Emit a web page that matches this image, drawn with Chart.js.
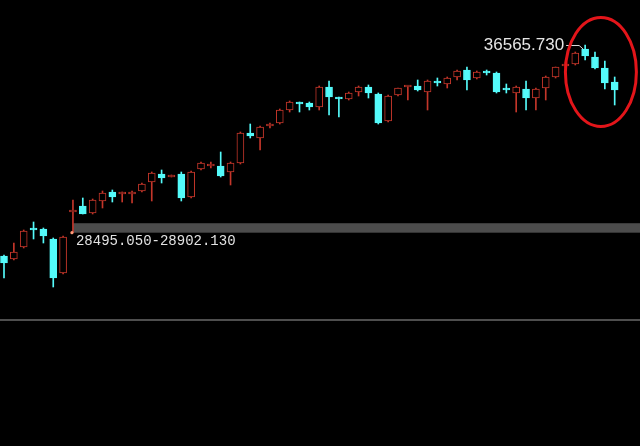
<!DOCTYPE html>
<html>
<head>
<meta charset="utf-8">
<script src="https://cdn.jsdelivr.net/npm/chart.js@4.4.1/dist/chart.umd.min.js"></script>
<style>
  html, body { margin: 0; padding: 0; background: #000; overflow: hidden; }
  #kChart { display: block; }
</style>
</head>
<body>
<canvas id="kChart" width="640" height="446"></canvas>
<script>
// daily candles, oldest first
const openPrices = [
  27493, 27364, 27880, 28697, 28654, 28224, 26762, 29385, 29643, 29342,
  29858, 30245, 30159, 30159, 30288, 30675, 31019, 30890, 31019, 30030,
  31234, 31363, 31363, 31105, 31492, 32782, 32567, 33083, 33212, 33771,
  34115, 34072, 33900, 34760, 34330, 34244, 34545, 34760, 34459, 33298,
  34416, 34760, 34803, 34545, 34975, 34889, 35190, 35491, 35147, 35405,
  35362, 34674, 34502, 34674, 34287, 34717, 35190, 35663, 35749, 36394,
  36050, 35577, 34975
];
const highPrices = [
  27536, 28052, 28611, 28955, 28697, 28267, 28353, 29901, 29987, 29944,
  30288, 30331, 30245, 30288, 30632, 31105, 31191, 30976, 31105, 31148,
  31535, 31535, 31965, 31535, 32825, 33169, 33083, 33212, 33814, 34158,
  34115, 34115, 34803, 35018, 34330, 34545, 34803, 34846, 34502, 34416,
  34717, 34803, 35061, 35061, 35147, 35190, 35491, 35620, 35448, 35491,
  35405, 34889, 34803, 35018, 34717, 35233, 35620, 35835, 36265, 36565.73,
  36265, 35878, 35190
];
const lowPrices = [
  26547, 27321, 27837, 28224, 28052, 26160, 26719, 28495.05, 29299, 29299,
  29557, 29815, 29815, 29772, 30245, 29858, 30632, 30890, 29858, 29987,
  31191, 31277, 30890, 30546, 31449, 32567, 32051, 32997, 33169, 33685,
  33685, 33771, 33771, 33556, 33470, 34201, 34373, 34287, 33169, 33255,
  34373, 34201, 34588, 33771, 34803, 34717, 35061, 34631, 35104, 35276,
  34502, 34502, 33685, 33771, 33771, 34201, 35147, 35577, 35706, 35921,
  35534, 34674, 33986
];
const closePrices = [
  27192, 27665, 28568, 28611, 28353, 26547, 28310, 29471, 29299, 29901,
  30202, 30030, 30202, 30245, 30589, 31062, 30847, 30976, 29987, 31105,
  31492, 31406, 30933, 31492, 32782, 32653, 33040, 33126, 33771, 34115,
  34029, 33900, 34760, 34330, 34244, 34502, 34760, 34502, 33212, 34373,
  34717, 34803, 34631, 35018, 34932, 35147, 35448, 35061, 35405, 35362,
  34545, 34631, 34760, 34287, 34674, 35190, 35620, 35706, 36222, 36093,
  35577, 34932, 34631
];

// highlighted price band and its caption
const bandLow = 28495.05;
const bandHigh = 28902.13;
const bandText = '28495.050-28902.130';
const bandStart = 7;      // candle the band starts at
const peakText = '36565.730';

const upColor = '#c4362a';
const downColor = '#54fafa';

(function(){
  const isUp = openPrices.map((o, i) => closePrices[i] >= o);

  const overlayPlugin = {
    id: 'overlay',
    beforeDatasetsDraw(chart) {
      const ctx = chart.ctx, xs = chart.scales.x, ys = chart.scales.y;
      const area = chart.chartArea;
      ctx.save();
      // lower pane separator
      ctx.fillStyle = '#4e4e4e';
      ctx.fillRect(area.left, 319, area.right - area.left, 2);
      // price band
      const bx = xs.getPixelForValue(bandStart);
      const yTop = ys.getPixelForValue(bandHigh), yBot = ys.getPixelForValue(bandLow);
      ctx.fillStyle = '#4c4c4c';
      ctx.fillRect(bx, yTop, area.right - bx, yBot - yTop);
      ctx.restore();
    },
    afterDatasetsDraw(chart) {
      const ctx = chart.ctx, xs = chart.scales.x, ys = chart.scales.y;
      ctx.save();

      // band caption + marker dot
      const bx = xs.getPixelForValue(bandStart);
      const by = ys.getPixelForValue(bandLow);
      ctx.fillStyle = '#ff9a78';
      ctx.beginPath();
      ctx.arc(bx - 1, by, 1.6, 0, Math.PI * 2);
      ctx.fill();
      ctx.font = '14px "Liberation Mono", "DejaVu Sans Mono", monospace';
      ctx.fillStyle = '#e2e2e2';
      ctx.textBaseline = 'top';
      ctx.textAlign = 'left';
      ctx.fillText(bandText, bx + 3, by + 2);

      // peak label
      let pk = 0;
      highPrices.forEach((h, i) => { if (h > highPrices[pk]) pk = i; });
      const px = xs.getPixelForValue(pk), py = ys.getPixelForValue(highPrices[pk]);
      ctx.strokeStyle = '#d8d8d8';
      ctx.lineWidth = 1;
      ctx.beginPath();
      ctx.moveTo(px - 19, py + 0.5);
      ctx.lineTo(px - 6, py + 0.5);
      ctx.lineTo(px - 2, py + 4);
      ctx.stroke();
      ctx.font = '17px "Liberation Sans", Arial, sans-serif';
      ctx.fillStyle = '#e6e6e6';
      ctx.textAlign = 'right';
      ctx.textBaseline = 'middle';
      ctx.fillText(peakText, px - 21, py);

      // red ring around the last few candles
      const cx = xs.getPixelForValue(60.6), cy = ys.getPixelForValue(35405);
      ctx.strokeStyle = '#e3151a';
      ctx.lineWidth = 3;
      ctx.beginPath();
      ctx.ellipse(cx, cy, 35.5, 54.5, 0, 0, Math.PI * 2);
      ctx.stroke();

      ctx.restore();
    }
  };

  const ctx = document.getElementById('kChart').getContext('2d');
  new Chart(ctx, {
    type: 'bar',
    plugins: [overlayPlugin],
    data: {
      datasets: [
        {
          // bodies (dataset 0 is drawn on top)
          data: openPrices.map((o, i) => ({ x: i, y: [o, closePrices[i]] })),
          backgroundColor: isUp.map(u => u ? '#000' : downColor),
          borderColor: isUp.map(u => u ? upColor : downColor),
          borderWidth: 1,
          borderSkipped: false,
          barThickness: 7,
          minBarLength: 2,
          grouped: false
        },
        {
          // wicks
          data: lowPrices.map((l, i) => ({ x: i, y: [l, highPrices[i]] })),
          backgroundColor: isUp.map(u => u ? upColor : downColor),
          borderWidth: 0,
          barThickness: 1,
          grouped: false
        }
      ]
    },
    options: {
      responsive: false,
      animation: false,
      layout: { padding: 0 },
      plugins: {
        legend: { display: false },
        tooltip: { enabled: false }
      },
      scales: {
        x: { type: 'linear', min: -0.406, max: 64.57, offset: false, display: false },
        y: { min: 19322.73, max: 38500.73, display: false }
      }
    }
  });
})();
</script>
</body>
</html>
